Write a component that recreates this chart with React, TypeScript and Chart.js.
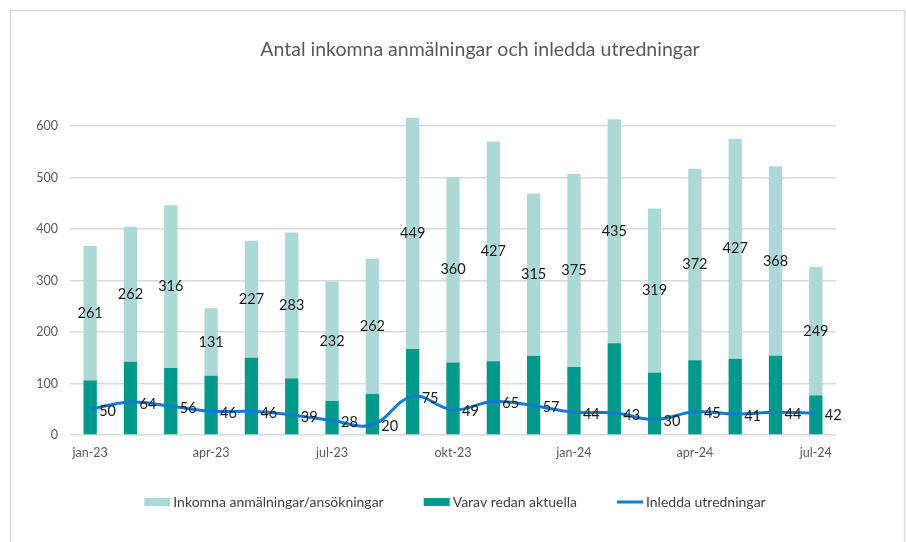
import React, { useEffect, useRef } from "react";
import { Chart, registerables } from "chart.js";

Chart.register(...registerables);

const categories = [
  "jan-23", "feb-23", "mar-23", "apr-23", "maj-23", "jun-23", "jul-23", "aug-23", "sep-23",
  "okt-23", "nov-23", "dec-23", "jan-24", "feb-24", "mar-24", "apr-24", "maj-24", "jun-24", "jul-24",
];
const redanAktuella = [106, 142, 130, 115, 150, 110, 66, 80, 167, 141, 143, 154, 132, 178, 121, 145, 148, 154, 77];
const inkomnaOvriga = [261, 262, 316, 131, 227, 283, 232, 262, 449, 360, 427, 315, 375, 435, 319, 372, 427, 368, 249];
const inleddaUtredningar = [50, 64, 56, 46, 46, 39, 28, 20, 75, 49, 65, 57, 44, 43, 30, 45, 41, 44, 42];
const yTicks = [0, 100, 200, 300, 400, 500, 600];

const TITLE = "Antal inkomna anmälningar och inledda utredningar";
const FONT = "Lato, 'Noto Sans', sans-serif";

const COL_LIGHT = "#acd9d5";
const COL_DARK = "#00998c";
const COL_LINE = "#1479d0";

const framePlugin = {
  id: "frame",
  beforeDraw(chart: any) {
    const ctx = chart.ctx;
    ctx.save();
    ctx.strokeStyle = "#d9d9d9";
    ctx.lineWidth = 1.5;
    ctx.beginPath();
    ctx.moveTo(10.5, 560);
    ctx.lineTo(10.5, 10.5);
    ctx.lineTo(904.5, 10.5);
    ctx.lineTo(904.5, 560);
    ctx.stroke();
    ctx.font = `19.5px ${FONT}`;
    ctx.fillStyle = "#595959";
    ctx.textAlign = "center";
    ctx.textBaseline = "middle";
    ctx.fillText(TITLE, 480, 50);
    ctx.restore();
  },
};

const legendPlugin = {
  id: "customLegend",
  afterDraw(chart: any) {
    const ctx = chart.ctx;
    ctx.save();
    ctx.font = `14px ${FONT}`;
    ctx.textAlign = "left";
    ctx.textBaseline = "middle";
    const y = 502;
    const items = [
      { label: chart.data.datasets[1].label, kind: "rect", color: COL_LIGHT },
      { label: chart.data.datasets[0].label, kind: "rect", color: COL_DARK },
      { label: chart.data.datasets[2].label, kind: "line", color: COL_LINE },
    ];
    const swatchW = 26;
    const gapSwatch = 3;
    const gapItems = 40;
    let total = 0;
    items.forEach((it, i) => {
      total += swatchW + gapSwatch + ctx.measureText(it.label).width + (i < items.length - 1 ? gapItems : 0);
    });
    let x = 455 - total / 2;
    items.forEach((it) => {
      if (it.kind === "rect") {
        ctx.fillStyle = it.color;
        ctx.fillRect(x, y - 4, swatchW, 8);
      } else {
        ctx.strokeStyle = it.color;
        ctx.lineWidth = 3;
        ctx.beginPath();
        ctx.moveTo(x, y);
        ctx.lineTo(x + swatchW, y);
        ctx.stroke();
      }
      x += swatchW + gapSwatch;
      ctx.fillStyle = "#404040";
      ctx.fillText(it.label, x, y);
      x += ctx.measureText(it.label).width + gapItems;
    });
    ctx.restore();
  },
};

const labelPlugin = {
  id: "valueLabels",
  afterDatasetsDraw(chart: any) {
    const ctx = chart.ctx;
    ctx.save();
    ctx.font = `14.5px ${FONT}`;
    ctx.fillStyle = "#1a1a1a";
    ctx.textBaseline = "middle";
    const metaBar = chart.getDatasetMeta(1);
    ctx.textAlign = "center";
    metaBar.data.forEach((el: any, i: number) => {
      const y = (el.y + el.base) / 2;
      ctx.fillText(String(inkomnaOvriga[i]), el.x, y);
    });
    const metaLine = chart.getDatasetMeta(2);
    ctx.textAlign = "left";
    metaLine.data.forEach((el: any, i: number) => {
      ctx.fillText(String(inleddaUtredningar[i]), el.x + 9, el.y + 2);
    });
    ctx.restore();
  },
};

export default function App() {
  const ref = useRef<HTMLCanvasElement | null>(null);

  useEffect(() => {
    if (!ref.current) return;
    const chart = new Chart(ref.current, {
      type: "bar",
      data: {
        labels: categories,
        datasets: [
          {
            type: "bar",
            label: "Varav redan aktuella",
            data: redanAktuella,
            backgroundColor: COL_DARK,
            borderWidth: 0,
            stack: "s",
            order: 2,
            barPercentage: 0.66,
            categoryPercentage: 0.5,
            clip: false as any,
          },
          {
            type: "bar",
            label: "Inkomna anmälningar/ansökningar",
            data: inkomnaOvriga,
            backgroundColor: COL_LIGHT,
            borderWidth: 0,
            stack: "s",
            order: 3,
            barPercentage: 0.66,
            categoryPercentage: 0.5,
            clip: false as any,
          },
          {
            type: "line",
            label: "Inledda utredningar",
            data: inleddaUtredningar,
            borderColor: COL_LINE,
            backgroundColor: COL_LINE,
            borderWidth: 3,
            pointRadius: 0,
            tension: 0.4,
            order: 1,
            clip: false as any,
          },
        ],
      },
      options: {
        animation: false,
        responsive: false,
        layout: { padding: { left: 0, right: 70, top: 126, bottom: 72 } },
        plugins: {
          title: { display: false },
          legend: { display: false },
          tooltip: { enabled: false },
        },
        scales: {
          x: {
            stacked: true,
            grid: { display: false, drawTicks: false },
            border: { display: false },
            ticks: {
              autoSkip: false,
              maxRotation: 0,
              color: "#595959",
              font: { family: FONT, size: 12.5 },
              padding: 10,
              callback: (_v: any, i: number) => (i % 3 === 0 ? categories[i] : ""),
            },
          },
          y: {
            stacked: true,
            min: 0,
            max: 600,
            grid: { color: "#d9d9d9", lineWidth: 1.5, drawTicks: false },
            border: { display: false },
            afterFit: (scale: any) => {
              scale.width = 70;
            },
            afterBuildTicks: (scale: any) => {
              scale.ticks = yTicks.map((v) => ({ value: v }));
            },
            ticks: {
              color: "#595959",
              font: { family: FONT, size: 12.5 },
              padding: 12,
            },
          },
        },
      },
      plugins: [framePlugin, labelPlugin, legendPlugin],
    });
    return () => chart.destroy();
  }, []);

  return (
    <div style={{ position: "fixed", left: 0, top: 0, width: 906, height: 542, background: "#fff" }}>
      <canvas ref={ref} width={906} height={542} style={{ width: 906, height: 542, display: "block" }} />
    </div>
  );
}
